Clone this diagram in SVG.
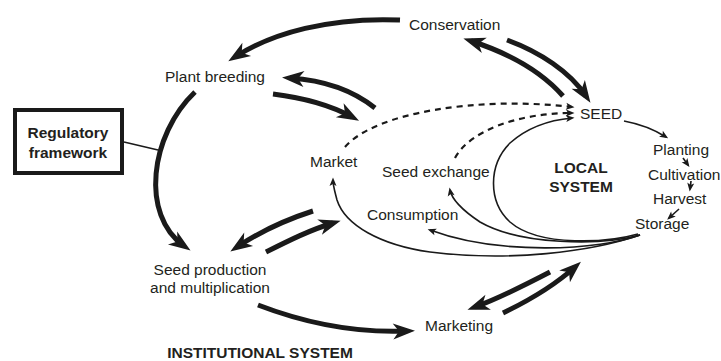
<svg xmlns="http://www.w3.org/2000/svg" width="721" height="361" viewBox="0 0 721 361">
<style>
text{font-family:"Liberation Sans",Arial,sans-serif;font-size:15.5px;fill:#231f20}
.b{font-weight:bold}
.thick{fill:none;stroke:#1a1a1a;stroke-width:5;marker-end:url(#big)}
.thin{fill:none;stroke:#1a1a1a;stroke-width:1.6;marker-end:url(#small)}
.dash{fill:none;stroke:#1a1a1a;stroke-width:2.2;stroke-dasharray:6 5;marker-end:url(#small)}
</style>
<defs>
<marker id="big" markerUnits="userSpaceOnUse" markerWidth="24" markerHeight="18" refX="14" refY="8" orient="auto" overflow="visible">
<path d="M0,0 L22,8 L0,16 L6,8 z" fill="#1a1a1a"/>
</marker>
<marker id="small" markerUnits="userSpaceOnUse" markerWidth="10" markerHeight="8" refX="6" refY="3.5" orient="auto" overflow="visible">
<path d="M0,0 L8.5,3.5 L0,7 L2,3.5 z" fill="#1a1a1a"/>
</marker>
</defs>
<rect width="721" height="361" fill="#fff"/>

<g id="connectors">
<path class="thick" d="M400,20 C330,17 272,33 235,57"/>
<path class="thick" d="M375,108 C350,88 320,80 290,78"/>
<path class="thick" d="M273,94 C305,98 332,106 352,117"/>
<path class="thick" d="M195,92 C150,135 140,215 184,246"/>
<path class="thick" d="M313,211 C285,220 258,233 237,247"/>
<path class="thick" d="M266,252 C290,240 310,230 333,223"/>
<path class="thick" d="M258,305 C310,325 360,333 407,331"/>
<path class="thick" d="M550,272 C525,285 500,298 475,307"/>
<path class="thick" d="M503,313 C530,300 555,285 575,267"/>
<path class="thick" d="M563,96 C540,70 505,52 471,41"/>
<path class="thick" d="M507,40 C540,52 570,72 586,96"/>
<path class="dash" d="M345,147 C375,112 480,96 572,107"/>
<path class="dash" d="M455,158 C470,130 520,113 572,113"/>
<path class="thin" d="M638,234 C610,242 540,248 510,222 C488,202 488,165 510,143 C528,127 550,120 572,118"/>
<path class="thin" d="M640,235 C600,246 520,245 480,222 C462,210 452,200 450,190"/>
<path class="thin" d="M640,235 C600,250 500,256 430,230"/>
<path class="thin" d="M640,235 C590,252 510,262 430,252 C380,245 345,225 337,200 C335,192 333,186 333,180"/>
<path class="thin" d="M624,121 C640,124 655,130 666,137"/>
<path class="thin" d="M683,158 L688,165"/>
<path class="thin" d="M691,181 L690,189"/>
<path class="thin" d="M679,209 L669,218"/>
<line x1="124" y1="142" x2="158" y2="150" stroke="#1a1a1a" stroke-width="1.5"/>
</g>

<g id="regulatory">
<rect x="15" y="110" width="107" height="63" fill="#fff" stroke="#1a1a1a" stroke-width="4"/>
<text class="b" x="68" y="138" text-anchor="middle">Regulatory</text>
<text class="b" x="68" y="158" text-anchor="middle">framework</text>
</g>
<g id="conservation"><text x="409" y="30">Conservation</text></g>
<g id="plant-breeding"><text x="165" y="82">Plant breeding</text></g>
<g id="market"><text x="310" y="167">Market</text></g>
<g id="seed-exchange"><text x="382" y="177">Seed exchange</text></g>
<g id="consumption"><text x="367" y="220">Consumption</text></g>
<g id="seed"><text x="580" y="119">SEED</text></g>
<g id="local-system">
<text class="b" x="581" y="173" text-anchor="middle">LOCAL</text>
<text class="b" x="581" y="192" text-anchor="middle">SYSTEM</text>
</g>
<g id="planting"><text x="653" y="155">Planting</text></g>
<g id="cultivation"><text x="648" y="180">Cultivation</text></g>
<g id="harvest"><text x="653" y="204">Harvest</text></g>
<g id="storage"><text x="635" y="229">Storage</text></g>
<g id="seed-production">
<text x="210" y="275" text-anchor="middle">Seed production</text>
<text x="210" y="293" text-anchor="middle">and multiplication</text>
</g>
<g id="marketing"><text x="425" y="331">Marketing</text></g>
<g id="institutional-system"><text class="b" x="260" y="358" text-anchor="middle">INSTITUTIONAL SYSTEM</text></g>
</svg>
